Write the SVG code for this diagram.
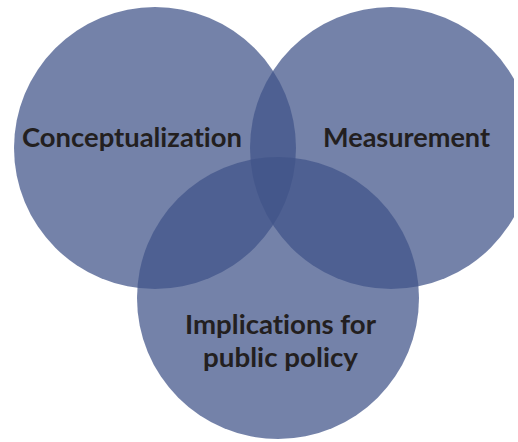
<svg xmlns="http://www.w3.org/2000/svg" width="518" height="442" viewBox="0 0 518 442">
<style>
.c{fill:#405389;fill-opacity:0.73}
.t{font-family:Lato,"Open Sans","Noto Sans",sans-serif;font-weight:bold;font-size:27px;fill:#231f20;text-anchor:middle;font-variant-ligatures:none;font-feature-settings:"liga" 0,"dlig" 0}
</style>
<defs>
<clipPath id="clip"><rect x="0" y="0" width="514" height="442"/></clipPath>
</defs>
<rect width="518" height="442" fill="#ffffff"/>
<g clip-path="url(#clip)">
<g id="conceptualization">
<circle class="c" cx="155" cy="148" r="141"/>
<text class="t" x="132" y="147" textLength="220" lengthAdjust="spacingAndGlyphs">Conceptualization</text>
</g>
<g id="measurement">
<circle class="c" cx="391" cy="148" r="141"/>
<text class="t" x="406.5" y="147" textLength="167" lengthAdjust="spacingAndGlyphs">Measurement</text>
</g>
<g id="implications">
<circle class="c" cx="278" cy="298" r="141"/>
<text class="t" x="280.5" y="334" textLength="191" lengthAdjust="spacingAndGlyphs">Implications for</text>
<text class="t" x="280.5" y="367" textLength="155" lengthAdjust="spacingAndGlyphs">public policy</text>
</g>
</g>
<g id="connectors"/>
</svg>
